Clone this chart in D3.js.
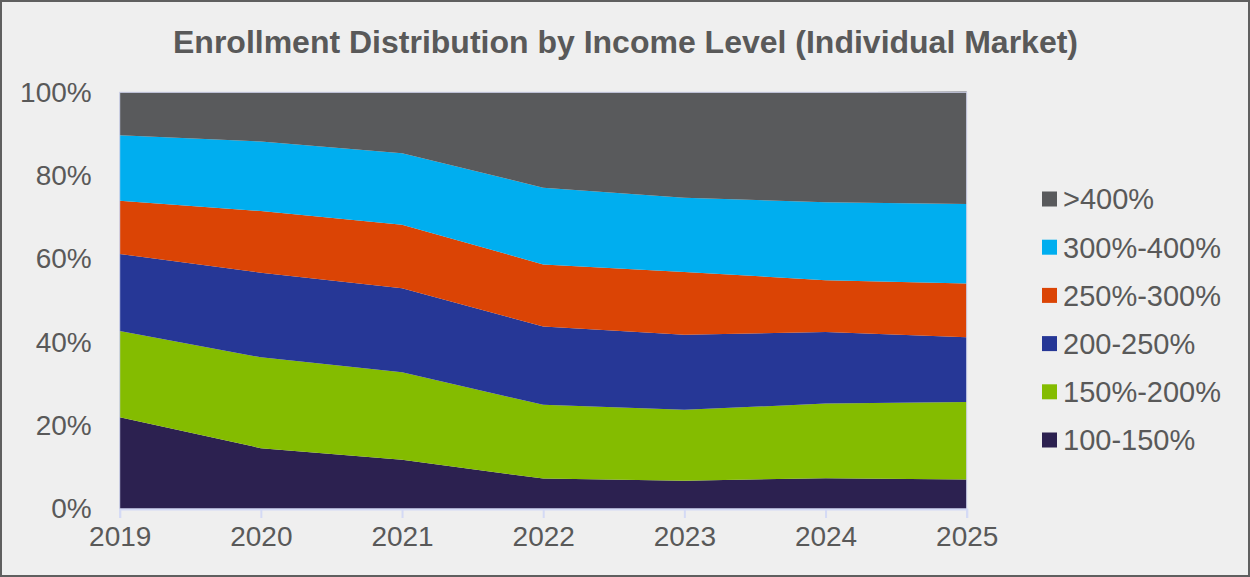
<!DOCTYPE html>
<html>
<head>
<meta charset="utf-8">
<script src="https://cdn.jsdelivr.net/npm/d3@7/dist/d3.min.js"></script>
<style>
  html, body { margin: 0; padding: 0; background: #efefef; }
  svg { display: block; font-family: "Liberation Sans", Arial, sans-serif; }
</style>
</head>
<body>
<svg id="chart" width="1250" height="577"></svg>
<script>
// Share of enrollment (%) by income band, per plan year
const years = [2019, 2020, 2021, 2022, 2023, 2024, 2025];
const seriesNames = ["100-150%", "150%-200%", "200-250%", "250%-300%", "300%-400%", ">400%"];
const band100to150 = [22.0, 14.6, 11.8, 7.3, 6.8, 7.4, 7.1];
const band150to200 = [20.7, 21.8, 21.0, 17.7, 17.0, 17.9, 18.6];
const band200to250 = [18.5, 20.3, 20.2, 18.8, 18.0, 17.2, 15.5];
const band250to300 = [12.8, 14.8, 15.2, 14.9, 15.1, 12.4, 12.9];
const band300to400 = [15.7, 16.7, 17.2, 18.4, 17.8, 18.7, 19.1];
const bandOver400 = [10.3, 11.8, 14.6, 22.9, 25.3, 26.4, 27.0];
const yTicks = [0, 20, 40, 60, 80, 100];

const colors = ["#2c2150", "#84bc00", "#263796", "#db4405", "#00aeef", "#595a5c"];

const bands = [band100to150, band150to200, band200to250, band250to300, band300to400, bandOver400];
const rows = years.map((y, i) => {
  const r = { year: y };
  seriesNames.forEach((n, k) => { r[n] = bands[k][i]; });
  return r;
});

const svg = d3.select("#chart");
const W = 1250, H = 577;
const textColor = "#595959";

// chart frame
svg.append("rect").attr("x", 1).attr("y", 1).attr("width", W - 2).attr("height", H - 2)
  .attr("fill", "#efefef").attr("stroke", "#5f5f5f").attr("stroke-width", 2);

svg.append("text")
  .attr("x", 625.5).attr("y", 53)
  .attr("text-anchor", "middle")
  .attr("font-size", 32).attr("font-weight", "bold")
  .attr("fill", textColor)
  .text("Enrollment Distribution by Income Level (Individual Market)");

const x = d3.scaleLinear().domain([years[0], years[years.length - 1]]).range([119.7, 966.7]);
const y = d3.scaleLinear().domain([0, 100]).range([509, 92.3]);

const stack = d3.stack().keys(seriesNames);
const stacked = stack(rows);

const area = d3.area()
  .x(d => x(d.data.year))
  .y0(d => y(d[0]))
  .y1(d => y(d[1]));

svg.append("g").selectAll("path").data(stacked).join("path")
  .attr("d", area)
  .attr("fill", (d, i) => colors[i]);

// plot border
svg.append("rect")
  .attr("x", x(years[0])).attr("y", y(100))
  .attr("width", x(years[years.length - 1]) - x(years[0]))
  .attr("height", y(0) - y(100))
  .attr("fill", "none").attr("stroke", "#cdd1ea").attr("stroke-width", 1);

// x axis
const xAxis = d3.axisBottom(x).tickValues(years).tickFormat(d3.format("d")).tickSize(9).tickPadding(8);
const gx = svg.append("g").attr("transform", `translate(0,${y(0)})`).call(xAxis);
gx.select(".domain").attr("stroke", "#d4daf5").attr("stroke-width", 2);
gx.selectAll(".tick line").attr("stroke", "#d4daf5").attr("stroke-width", 2);
gx.selectAll(".tick text").attr("font-size", 28).attr("fill", textColor)
  .attr("font-family", "'Liberation Sans', Arial, sans-serif");

// y axis
const yAxis = d3.axisLeft(y).tickValues(yTicks).tickFormat(d => d + "%").tickSize(0).tickPadding(28);
const gy = svg.append("g").attr("transform", `translate(${x(years[0])},0)`).call(yAxis);
gy.select(".domain").remove();
gy.selectAll(".tick text").attr("font-size", 28).attr("fill", textColor)
  .attr("font-family", "'Liberation Sans', Arial, sans-serif");

// legend, top series first
const legend = svg.append("g");
const legendOrder = seriesNames.map((n, i) => ({ name: n, color: colors[i] })).reverse();
legendOrder.forEach((d, i) => {
  const cy = 199 + i * 48.2;
  legend.append("rect").attr("x", 1042).attr("y", cy - 7.5).attr("width", 15).attr("height", 15).attr("fill", d.color);
  legend.append("text").attr("x", 1063).attr("y", cy).attr("dy", "0.36em")
    .attr("font-size", 29).attr("fill", textColor).text(d.name);
});
</script>
</body>
</html>
